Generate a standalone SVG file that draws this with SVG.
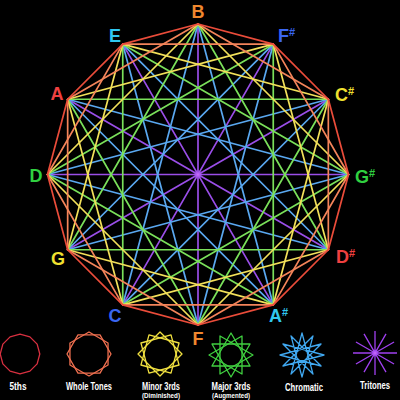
<svg xmlns="http://www.w3.org/2000/svg" width="400" height="400" viewBox="0 0 400 400">
<defs>
<style>
.c line{stroke-width:1.7;stroke-linecap:round}
.d1 line{stroke:#ea4c3a}
.d2 line{stroke:#f4845a}
.d3 line{stroke:#f2e05a}
.d4 line{stroke:#7ae05a}
.d5 line{stroke:#5aa8f0}
.d6 line{stroke:#9a4ee8}
.lbl{font-family:"Liberation Sans",Arial,sans-serif;font-weight:bold;font-size:18px}
.sh{font-size:11px}
.leg{font-family:"Liberation Sans",Arial,sans-serif;font-weight:bold;font-size:10px;fill:#ffffff;text-anchor:middle}
.sub{font-size:8px}
.ic{fill:none;stroke-width:1.3;stroke-linejoin:round}
</style>
<radialGradient id="glow">
<stop offset="0" stop-color="#d070ff" stop-opacity="1"/>
<stop offset="1" stop-color="#9a4ee8" stop-opacity="0"/>
</radialGradient>
</defs>
<rect width="400" height="400" fill="#000"/>
<g id="connectors" class="c">
<g class="d6">
<line x1="198" y1="24" x2="198" y2="325"/>
<line x1="273.25" y1="44.17" x2="122.75" y2="304.83"/>
<line x1="328.33" y1="99.25" x2="67.67" y2="249.75"/>
<line x1="348.5" y1="174.5" x2="47.5" y2="174.5"/>
<line x1="328.33" y1="249.75" x2="67.67" y2="99.25"/>
<line x1="273.25" y1="304.83" x2="122.75" y2="44.17"/>
</g>
<g class="d5">
<line x1="198" y1="24" x2="273.25" y2="304.83"/>
<line x1="273.25" y1="44.17" x2="198" y2="325"/>
<line x1="328.33" y1="99.25" x2="122.75" y2="304.83"/>
<line x1="348.5" y1="174.5" x2="67.67" y2="249.75"/>
<line x1="328.33" y1="249.75" x2="47.5" y2="174.5"/>
<line x1="273.25" y1="304.83" x2="67.67" y2="99.25"/>
<line x1="198" y1="325" x2="122.75" y2="44.17"/>
<line x1="122.75" y1="304.83" x2="198" y2="24"/>
<line x1="67.67" y1="249.75" x2="273.25" y2="44.17"/>
<line x1="47.5" y1="174.5" x2="328.33" y2="99.25"/>
<line x1="67.67" y1="99.25" x2="348.5" y2="174.5"/>
<line x1="122.75" y1="44.17" x2="328.33" y2="249.75"/>
</g>
<g class="d4">
<line x1="198" y1="24" x2="328.33" y2="249.75"/>
<line x1="273.25" y1="44.17" x2="273.25" y2="304.83"/>
<line x1="328.33" y1="99.25" x2="198" y2="325"/>
<line x1="348.5" y1="174.5" x2="122.75" y2="304.83"/>
<line x1="328.33" y1="249.75" x2="67.67" y2="249.75"/>
<line x1="273.25" y1="304.83" x2="47.5" y2="174.5"/>
<line x1="198" y1="325" x2="67.67" y2="99.25"/>
<line x1="122.75" y1="304.83" x2="122.75" y2="44.17"/>
<line x1="67.67" y1="249.75" x2="198" y2="24"/>
<line x1="47.5" y1="174.5" x2="273.25" y2="44.17"/>
<line x1="67.67" y1="99.25" x2="328.33" y2="99.25"/>
<line x1="122.75" y1="44.17" x2="348.5" y2="174.5"/>
</g>
<g class="d3">
<line x1="198" y1="24" x2="348.5" y2="174.5"/>
<line x1="273.25" y1="44.17" x2="328.33" y2="249.75"/>
<line x1="328.33" y1="99.25" x2="273.25" y2="304.83"/>
<line x1="348.5" y1="174.5" x2="198" y2="325"/>
<line x1="328.33" y1="249.75" x2="122.75" y2="304.83"/>
<line x1="273.25" y1="304.83" x2="67.67" y2="249.75"/>
<line x1="198" y1="325" x2="47.5" y2="174.5"/>
<line x1="122.75" y1="304.83" x2="67.67" y2="99.25"/>
<line x1="67.67" y1="249.75" x2="122.75" y2="44.17"/>
<line x1="47.5" y1="174.5" x2="198" y2="24"/>
<line x1="67.67" y1="99.25" x2="273.25" y2="44.17"/>
<line x1="122.75" y1="44.17" x2="328.33" y2="99.25"/>
</g>
<g class="d2">
<line x1="198" y1="24" x2="328.33" y2="99.25"/>
<line x1="273.25" y1="44.17" x2="348.5" y2="174.5"/>
<line x1="328.33" y1="99.25" x2="328.33" y2="249.75"/>
<line x1="348.5" y1="174.5" x2="273.25" y2="304.83"/>
<line x1="328.33" y1="249.75" x2="198" y2="325"/>
<line x1="273.25" y1="304.83" x2="122.75" y2="304.83"/>
<line x1="198" y1="325" x2="67.67" y2="249.75"/>
<line x1="122.75" y1="304.83" x2="47.5" y2="174.5"/>
<line x1="67.67" y1="249.75" x2="67.67" y2="99.25"/>
<line x1="47.5" y1="174.5" x2="122.75" y2="44.17"/>
<line x1="67.67" y1="99.25" x2="198" y2="24"/>
<line x1="122.75" y1="44.17" x2="273.25" y2="44.17"/>
</g>
<g class="d1">
<line x1="198" y1="24" x2="273.25" y2="44.17"/>
<line x1="273.25" y1="44.17" x2="328.33" y2="99.25"/>
<line x1="328.33" y1="99.25" x2="348.5" y2="174.5"/>
<line x1="348.5" y1="174.5" x2="328.33" y2="249.75"/>
<line x1="328.33" y1="249.75" x2="273.25" y2="304.83"/>
<line x1="273.25" y1="304.83" x2="198" y2="325"/>
<line x1="198" y1="325" x2="122.75" y2="304.83"/>
<line x1="122.75" y1="304.83" x2="67.67" y2="249.75"/>
<line x1="67.67" y1="249.75" x2="47.5" y2="174.5"/>
<line x1="47.5" y1="174.5" x2="67.67" y2="99.25"/>
<line x1="67.67" y1="99.25" x2="122.75" y2="44.17"/>
<line x1="122.75" y1="44.17" x2="198" y2="24"/>
</g>
<circle cx="198" cy="174.5" r="5" fill="url(#glow)"/>
</g>
<g id="node-B"><text class="lbl" x="198" y="18" text-anchor="middle" fill="#f0882e">B</text></g>
<g id="node-Fs"><text class="lbl" x="278" y="42" fill="#3a66f0">F<tspan class="sh" dy="-6">#</tspan></text></g>
<g id="node-Cs"><text class="lbl" x="335" y="101" fill="#f0e030">C<tspan class="sh" dy="-6">#</tspan></text></g>
<g id="node-Gs"><text class="lbl" x="355" y="183" fill="#30d040">G<tspan class="sh" dy="-6">#</tspan></text></g>
<g id="node-Ds"><text class="lbl" x="336" y="263" fill="#f04040">D<tspan class="sh" dy="-6">#</tspan></text></g>
<g id="node-As"><text class="lbl" x="269" y="322" fill="#30c8f0">A<tspan class="sh" dy="-6">#</tspan></text></g>
<g id="node-F"><text class="lbl" x="198" y="345" text-anchor="middle" fill="#f0882e">F</text></g>
<g id="node-C"><text class="lbl" x="115" y="322" text-anchor="middle" fill="#3a66f0">C</text></g>
<g id="node-G"><text class="lbl" x="58" y="265" text-anchor="middle" fill="#f0e030">G</text></g>
<g id="node-D"><text class="lbl" x="36" y="182" text-anchor="middle" fill="#30d040">D</text></g>
<g id="node-A"><text class="lbl" x="57" y="100" text-anchor="middle" fill="#f04040">A</text></g>
<g id="node-E"><text class="lbl" x="115" y="42" text-anchor="middle" fill="#30c8f0">E</text></g>
<g id="legend">
<g id="leg-5ths" transform="translate(20,354)">
<polygon class="ic" stroke="#d83040" transform="scale(0.9)" vector-effect="non-scaling-stroke" points="0,-22 11,-19.05 19.05,-11 22,0 19.05,11 11,19.05 0,22 -11,19.05 -19.05,11 -22,0 -19.05,-11 -11,-19.05"/>
</g>
<g id="leg-whole" transform="translate(89,354)" class="ic" stroke="#f07050">
<polygon points="0,-22 19.05,-11 19.05,11 0,22 -19.05,11 -19.05,-11"/>
<polygon points="11,-19.05 22,0 11,19.05 -11,19.05 -22,0 -11,-19.05"/>
</g>
<g id="leg-minor" transform="translate(160,354)" class="ic" stroke="#f0e040">
<polygon points="0,-22 22,0 0,22 -22,0"/>
<polygon points="11,-19.05 19.05,11 -11,19.05 -19.05,-11"/>
<polygon points="19.05,-11 11,19.05 -19.05,11 -11,-19.05"/>
</g>
<g id="leg-major" transform="translate(231,355)" class="ic" stroke="#40d040">
<polygon points="0,-22 19.05,11 -19.05,11"/>
<polygon points="11,-19.05 11,19.05 -22,0"/>
<polygon points="19.05,-11 0,22 -19.05,-11"/>
<polygon points="22,0 -11,19.05 -11,-19.05"/>
</g>
<g id="leg-chromatic" transform="translate(302,355)" class="ic" stroke="#40a8f0">
<polygon points="0,-22 11,19.05 -19.05,-11 22,0 -19.05,11 11,-19.05 0,22 -11,-19.05 19.05,11 -22,0 19.05,-11 -11,19.05"/>
</g>
<g id="leg-tritones" transform="translate(375,353)" class="ic" stroke="#a040f0">
<path d="M0,-22L0,22M11,-19.05L-11,19.05M19.05,-11L-19.05,11M22,0L-22,0M19.05,11L-19.05,-11M11,19.05L-11,-19.05"/>
<circle r="4" fill="url(#glow)" stroke="none"/>
</g>
<text class="leg" x="18" y="390" textLength="17" lengthAdjust="spacingAndGlyphs">5ths</text>
<text class="leg" x="89" y="390" textLength="46" lengthAdjust="spacingAndGlyphs">Whole Tones</text>
<text class="leg" x="161" y="390" textLength="38" lengthAdjust="spacingAndGlyphs">Minor 3rds</text>
<text class="leg sub" x="161" y="397.5" textLength="38" lengthAdjust="spacingAndGlyphs">(Diminished)</text>
<text class="leg" x="231" y="390" textLength="39" lengthAdjust="spacingAndGlyphs">Major 3rds</text>
<text class="leg sub" x="231" y="397.5" textLength="38" lengthAdjust="spacingAndGlyphs">(Augmented)</text>
<text class="leg" x="304" y="391" textLength="38" lengthAdjust="spacingAndGlyphs">Chromatic</text>
<text class="leg" x="375" y="389" textLength="30" lengthAdjust="spacingAndGlyphs">Tritones</text>
</g>
</svg>
